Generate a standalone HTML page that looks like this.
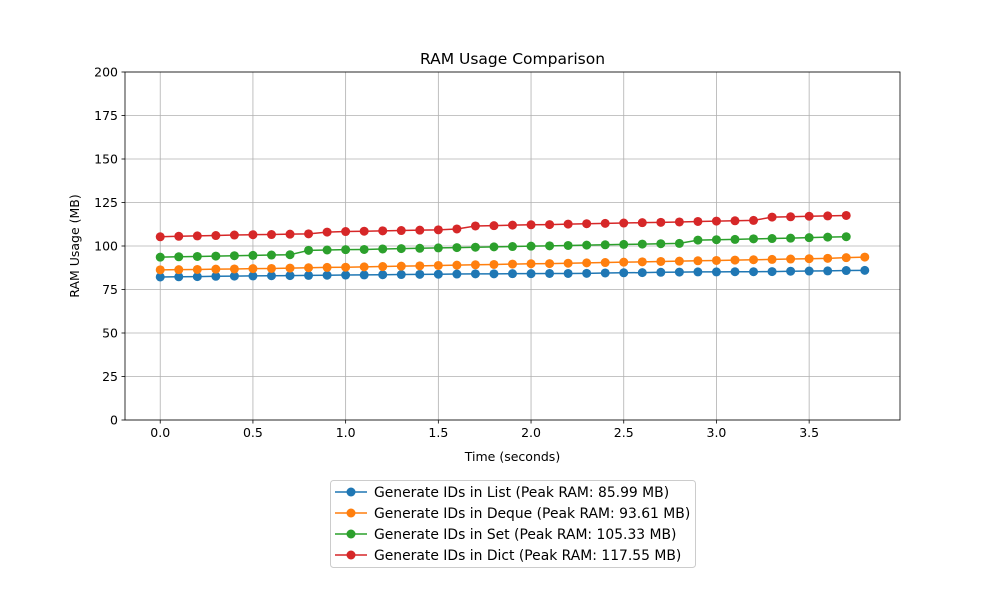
<!DOCTYPE html>
<html><head><meta charset="utf-8">
<style>
html,body{margin:0;padding:0;background:#fff;}
svg{display:block;font-family:"DejaVu Sans","Liberation Sans",sans-serif;}
</style></head>
<body>
<svg id="chart" width="1000" height="600" viewBox="0 0 1000 600"></svg>
<script>
const seriesNames = ["Generate IDs in List (Peak RAM: 85.99 MB)","Generate IDs in Deque (Peak RAM: 93.61 MB)","Generate IDs in Set (Peak RAM: 105.33 MB)","Generate IDs in Dict (Peak RAM: 117.55 MB)"];
const seriesColors = ["#1f77b4","#ff7f0e","#2ca02c","#d62728"];
const listVals = [82.2,82.3,82.4,82.6,82.7,82.8,82.9,83.0,83.1,83.2,83.3,83.4,83.5,83.6,83.7,83.8,83.9,84.0,84.0,84.1,84.1,84.2,84.2,84.3,84.5,84.6,84.7,84.9,85.0,85.1,85.1,85.2,85.2,85.3,85.5,85.6,85.7,85.9,85.99];
const dequeVals = [86.3,86.4,86.5,86.7,86.8,87.0,87.1,87.3,87.5,87.7,87.8,88.0,88.2,88.4,88.6,88.8,89.0,89.2,89.4,89.6,89.8,89.9,90.1,90.3,90.5,90.7,90.9,91.1,91.3,91.5,91.7,91.9,92.1,92.3,92.5,92.7,92.9,93.3,93.61];
const setVals = [93.6,93.8,94.0,94.2,94.4,94.6,94.8,95.0,97.5,97.7,97.9,98.0,98.3,98.5,98.7,98.9,99.1,99.3,99.5,99.7,99.9,100.1,100.3,100.5,100.7,100.9,101.1,101.3,101.5,103.4,103.6,103.8,104.1,104.3,104.5,104.8,105.1,105.33];
const dictVals = [105.3,105.6,105.8,106.0,106.3,106.5,106.6,106.8,107.0,108.0,108.3,108.5,108.7,108.9,109.1,109.3,109.8,111.5,111.7,112.0,112.2,112.3,112.6,112.8,113.0,113.2,113.4,113.6,113.8,114.1,114.3,114.5,114.7,116.6,116.8,117.1,117.3,117.55];
const xTicks = [0,0.5,1.0,1.5,2.0,2.5,3.0,3.5];
const xTickLabels = ["0.0","0.5","1.0","1.5","2.0","2.5","3.0","3.5"];
const yTicks = [0,25,50,75,100,125,150,175,200];
const timeStep = 0.1;

const NS="http://www.w3.org/2000/svg";
const svg=document.getElementById('chart');
const L=125,R=900,T=72,B=420;
const xMin=-0.19,xMax=3.99,yMin=0,yMax=200;
const xs=v=>L+(v-xMin)/(xMax-xMin)*(R-L);
const ys=v=>B-(v-yMin)/(yMax-yMin)*(B-T);
function mk(tag,attrs,parent){const e=document.createElementNS(NS,tag);for(const k in attrs)e.setAttribute(k,attrs[k]);(parent||svg).appendChild(e);return e;}

xTicks.forEach((t,i)=>{
  const g=mk('line',{x1:xs(t),x2:xs(t),y1:T,y2:B,stroke:'#b0b0b0','stroke-width':0.8});
  
  
  mk('line',{x1:xs(t),x2:xs(t),y1:B,y2:B+3.5,stroke:'#000','stroke-width':0.8});
  const tx=mk('text',{x:xs(t),y:B+17,'text-anchor':'middle','font-size':12.5,fill:'#000'});
  tx.textContent=xTickLabels[i];
  
  
});
yTicks.forEach(t=>{
  const g=mk('line',{x1:L,x2:R,y1:ys(t),y2:ys(t),stroke:'#b0b0b0','stroke-width':0.8});
  
  
  mk('line',{x1:L-3.5,x2:L,y1:ys(t),y2:ys(t),stroke:'#000','stroke-width':0.8});
  const tx=mk('text',{x:L-7,y:ys(t)+4.5,'text-anchor':'end','font-size':12.5,fill:'#000'});
  tx.textContent=t;
  
  
});

const allVals=[listVals,dequeVals,setVals,dictVals];
const seriesKeys=['list','deque','set','dict'];
allVals.forEach((vals,si)=>{
  const g=mk('g',{});
  
  
  const pts=vals.map((v,i)=>xs(i*timeStep).toFixed(2)+','+ys(v).toFixed(2)).join(' ');
  const pl=mk('polyline',{points:pts,fill:'none',stroke:seriesColors[si],'stroke-width':1.5},g);
  
  
  vals.forEach((v,i)=>{
    const c=mk('circle',{cx:xs(i*timeStep),cy:ys(v),r:4.5,fill:seriesColors[si]},g);
    
    
  });
});

const fr=mk('rect',{x:L,y:T,width:R-L,height:B-T,fill:'none',stroke:'#000','stroke-width':0.8});



const title=mk('text',{x:(L+R)/2,y:64,'text-anchor':'middle','font-size':15.5,fill:'#000'});
title.textContent='RAM Usage Comparison';


const xt=mk('text',{x:(L+R)/2,y:461,'text-anchor':'middle','font-size':12.5,fill:'#000'});
xt.textContent='Time (seconds)';


const yt=mk('text',{x:0,y:0,'text-anchor':'middle','font-size':12.5,fill:'#000',transform:'translate(79,246) rotate(-90)'});
yt.textContent='RAM Usage (MB)';



const lg=mk('g',{});


mk('rect',{x:330.5,y:480.5,width:365,height:87,rx:3,fill:'#fff',stroke:'#cccccc','stroke-width':1},lg);
seriesNames.forEach((n,i)=>{
  const y=492+i*21;
  const e=mk('g',{},lg);
  
  
  mk('line',{x1:335,x2:367,y1:y,y2:y,stroke:seriesColors[i],'stroke-width':1.5},e);
  mk('circle',{cx:351,cy:y,r:4.5,fill:seriesColors[i]},e);
  const t=mk('text',{x:374,y:y+5,'font-size':13.9,fill:'#000'},e);
  t.textContent=n;
});
</script>
</body></html>
